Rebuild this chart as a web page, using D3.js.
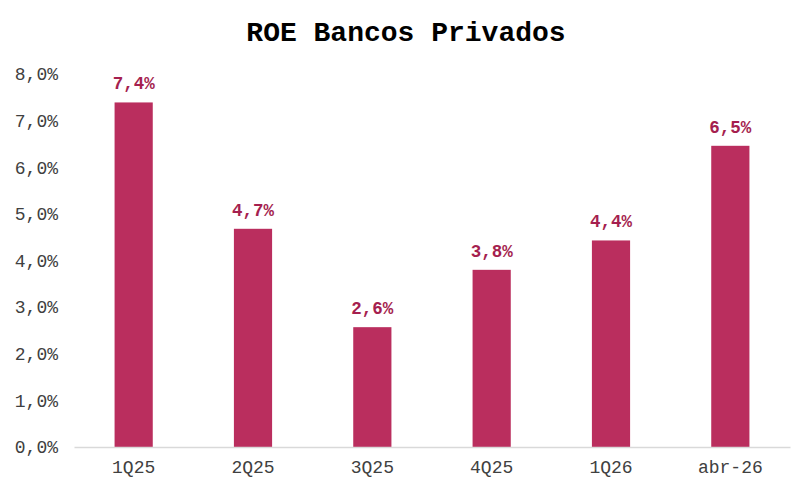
<!DOCTYPE html>
<html><head><meta charset="utf-8">
<script src="https://cdn.jsdelivr.net/npm/d3@7"></script>
<style>
html,body{margin:0;padding:0;background:#fff;}
svg text{font-family:"Liberation Mono","Courier New",monospace;}
</style></head>
<body><svg id="c" width="812" height="493"></svg>
<script>
const categories = ["1Q25","2Q25","3Q25","4Q25","1Q26","abr-26"];
const roeValues = [7.39, 4.68, 2.57, 3.80, 4.43, 6.46];
const yTicks = [0,1,2,3,4,5,6,7,8];
const title = "ROE Bancos Privados";

const svg = d3.select("#c");
const margin = {left:74, right:22, top:74, bottom:46};
const W = 812, H = 493;
const x = d3.scaleBand().domain(categories).range([margin.left, W - margin.right]).paddingInner(0.68).paddingOuter(0.34);
const y = d3.scaleLinear().domain([0,8]).range([H - margin.bottom, margin.top]);
const fmt = v => v.toFixed(1).replace(".", ",") + "%";
const ff = '"Liberation Mono","Courier New",monospace';

svg.append("text").attr("x", 406).attr("y", 41).attr("text-anchor","middle")
  .attr("font-size", 28).attr("font-weight","bold").attr("fill","#000").text(title);

const yAxis = svg.append("g").attr("transform", `translate(${margin.left},0)`)
  .call(d3.axisLeft(y).tickValues(yTicks).tickSize(0).tickPadding(16).tickFormat(d => d.toFixed(1).replace(".", ",") + "%"));
yAxis.select(".domain").remove();
yAxis.selectAll("text").attr("font-size", 18).attr("fill","#404040").style("font-family",ff);

svg.selectAll("rect.bar").data(categories).enter().append("rect").attr("class","bar")
  .attr("x", d => x(d)).attr("width", x.bandwidth())
  .attr("y", (d,i) => y(roeValues[i])).attr("height", (d,i) => y(0) - y(roeValues[i]))
  .attr("fill", "#BA2E5E");

const xAxis = svg.append("g").attr("transform", `translate(0,${y(0)})`)
  .call(d3.axisBottom(x).tickSize(0).tickPadding(13));
xAxis.select(".domain").attr("stroke","#D9D9D9").attr("stroke-width",1.5);
xAxis.selectAll("text").attr("font-size", 18).attr("fill","#404040").style("font-family",ff);

svg.selectAll("text.lbl").data(categories).enter().append("text").attr("class","lbl")
  .attr("x", d => x(d) + x.bandwidth()/2).attr("y", (d,i) => y(roeValues[i]) - 13)
  .attr("text-anchor","middle").attr("font-size",17.5).attr("font-weight","bold").attr("fill","#A51F4F")
  .text((d,i) => fmt(roeValues[i]));
</script></body></html>
